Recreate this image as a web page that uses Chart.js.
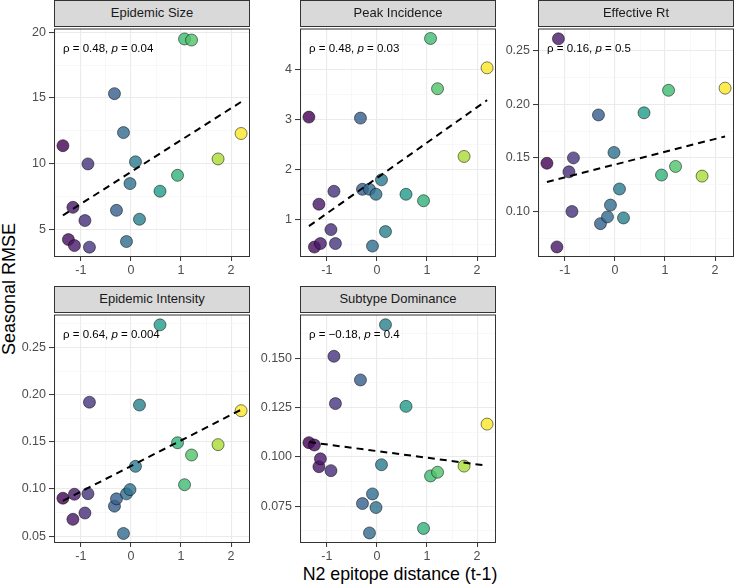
<!DOCTYPE html>
<html>
<head>
<meta charset="utf-8">
<script src="https://cdn.jsdelivr.net/npm/chart.js@4.4.1/dist/chart.umd.min.js"></script>
<style>
  body { margin: 0; background: #fff; width: 735px; height: 584px; position: relative; overflow: hidden; font-family: "Liberation Sans", Arial, sans-serif; }
  canvas { position: absolute; }
  .strip { position: absolute; background: #d9d9d9; border: 1px solid #333; box-sizing: border-box; text-align: center; color: #1a1a1a; font-size: 13px; line-height: 24px; z-index: 2; }
  .ytitle { position: absolute; left: 9px; top: 289px; transform: translate(-50%, -50%) rotate(-90deg); font-size: 18px; color: #000; white-space: nowrap; }
  .xtitle { position: absolute; left: 400px; top: 574px; transform: translate(-50%, -50%); font-size: 17.8px; line-height: 20px; color: #000; white-space: nowrap; }
</style>
</head>
<body>
<div class="ytitle">Seasonal RMSE</div>
<div class="xtitle">N2 epitope distance (t-1)</div>
<script>
// N2 epitope distance (t-1), same seasons in every panel
const epitopeDist = [-1.36, -1.25, -1.16, -1.13, -0.92, -0.86, -0.83, -0.33, -0.29, -0.15, -0.09, -0.02, 0.09, 0.17, 0.58, 0.93, 1.07, 1.21, 1.74, 2.2];

// Seasonal RMSE per metric (null = no point shown)
const epidemicSize      = [11.36, 4.2, 6.66, 3.74, 5.65, 9.97, 3.62, 15.33, 6.43, 12.36, 4.05, 8.47, 10.13, 5.75, 7.89, 9.1, 19.5, 19.42, 10.35, 12.29];
const peakIncidence     = [3.05, 0.44, 1.3, 0.51, 0.79, 1.56, 0.51, 3.03, 1.6, 1.6, 0.46, 1.5, 1.79, 0.75, 1.5, 1.37, 4.63, 3.62, 2.26, 4.04];
const effectiveRt       = [0.145, null, 0.067, 0.261, 0.137, 0.100, 0.150, 0.190, 0.0887, 0.095, 0.106, 0.155, 0.121, 0.094, 0.192, 0.134, 0.213, 0.142, 0.133, 0.215];
const epidemicIntensity = [0.0902, null, 0.0678, 0.0944, 0.0745, 0.095, 0.192, 0.0818, 0.0895, 0.0528, 0.0948, 0.0993, 0.124, 0.189, 0.274, 0.149, 0.1045, 0.136, 0.147, 0.183];
const subtypeDominance  = [0.1072, 0.106, 0.095, 0.099, 0.093, 0.151, 0.127, 0.139, 0.0763, 0.0614, 0.0812, 0.0743, 0.096, 0.167, 0.1256, 0.0637, 0.0903, 0.0922, 0.0953, 0.1166];

// dashed linear fit, read at both ends of the x range
const fitX = [-1.36, 2.2];
const fitSize      = [6.05, 14.7];
const fitPeak      = [0.86, 3.39];
const fitRt        = [0.1276, 0.170];
const fitIntensity = [0.0874, 0.184];
const fitSubtype   = [0.1075, 0.0955];

// correlation labels
const corRho = ['0.48', '0.48', '0.16', '0.64', '\u22120.18'];
const corP   = ['0.04', '0.03', '0.5', '0.004', '0.4'];

// ticks
const xTicks = [-1, 0, 1, 2];
const xMinor = [-1.5, -0.5, 0.5, 1.5];
const sizeTicks = [5, 10, 15, 20];
const sizeMinor = [7.5, 12.5, 17.5];
const peakTicks = [1, 2, 3, 4];
const peakMinor = [0.5, 1.5, 2.5, 3.5, 4.5];
const rtTicks = [0.10, 0.15, 0.20, 0.25];
const rtLabels = ['0.10', '0.15', '0.20', '0.25'];
const rtMinor = [0.075, 0.125, 0.175, 0.225];
const intensityTicks = [0.05, 0.10, 0.15, 0.20, 0.25];
const intensityLabels = ['0.05', '0.10', '0.15', '0.20', '0.25'];
const intensityMinor = [0.075, 0.125, 0.175, 0.225, 0.275];
const subtypeTicks = [0.075, 0.100, 0.125, 0.150];
const subtypeLabels = ['0.075', '0.100', '0.125', '0.150'];
const subtypeMinor = [0.0625, 0.0875, 0.1125, 0.1375, 0.1625];

const panels = [
  { title: 'Epidemic Size', y: epidemicSize, fit: fitSize, ticks: sizeTicks, labels: sizeTicks.map(String), minor: sizeMinor, ymin: 2.87, ymax: 20.3, left: 54, top: 26 },
  { title: 'Peak Incidence', y: peakIncidence, fit: fitPeak, ticks: peakTicks, labels: peakTicks.map(String), minor: peakMinor, ymin: 0.24, ymax: 4.83, left: 300, top: 26 },
  { title: 'Effective Rt', y: effectiveRt, fit: fitRt, ticks: rtTicks, labels: rtLabels, minor: rtMinor, ymin: 0.0576, ymax: 0.2706, left: 538, top: 26 },
  { title: 'Epidemic Intensity', y: epidemicIntensity, fit: fitIntensity, ticks: intensityTicks, labels: intensityLabels, minor: intensityMinor, ymin: 0.0427, ymax: 0.285, left: 54, top: 312 },
  { title: 'Subtype Dominance', y: subtypeDominance, fit: fitSubtype, ticks: subtypeTicks, labels: subtypeLabels, minor: subtypeMinor, ymin: 0.0563, ymax: 0.1722, left: 300, top: 312 }
];

const PW = 196, PH = 231, AXW = 50, AXH = 30, PADT = 8, PADR = 4;
const XMIN = -1.538, XMAX = 2.378;

// viridis colour for each point, by x
const viridis = ['#440154', '#482475', '#414487', '#355f8d', '#2a788e', '#21918c', '#22a884', '#44bf70', '#7ad151', '#bddf26', '#fde725'];
function hexToRgb(h) { return [1, 3, 5].map(i => parseInt(h.substr(i, 2), 16)); }
function viridisColor(t, alpha) {
  t = Math.max(0, Math.min(1, t)) * (viridis.length - 1);
  const i = Math.min(Math.floor(t), viridis.length - 2);
  const f = t - i;
  const a = hexToRgb(viridis[i]), b = hexToRgb(viridis[i + 1]);
  const c = a.map((v, k) => Math.round(v + (b[k] - v) * f));
  return `rgba(${c[0]},${c[1]},${c[2]},${alpha})`;
}
const xLo = Math.min(...epitopeDist), xHi = Math.max(...epitopeDist);

function tickList(major, minor) {
  return major.map(v => ({ value: v })).concat(minor.map(v => ({ value: v, minor: true })))
    .sort((a, b) => a.value - b.value);
}

// panel border + correlation text
const panelDeco = {
  id: 'panelDeco',
  afterDatasetsDraw(chart, args, opts) {
    const { ctx, chartArea: a } = chart;
    ctx.save();
    ctx.fillStyle = '#000';
    ctx.textBaseline = 'middle';
    let x = a.left + 9;
    const y = a.top + 20;
    const parts = [['\u03c1 = ' + opts.rho + ', ', 'normal'], ['p', 'italic'], [' = ' + opts.p, 'normal']];
    parts.forEach(([txt, style]) => {
      ctx.font = style + ' 11.5px "Liberation Sans", Arial, sans-serif';
      ctx.fillText(txt, x, y);
      x += ctx.measureText(txt).width;
    });
    ctx.strokeStyle = '#333';
    ctx.lineWidth = 1;
    ctx.strokeRect(a.left + 0.5, a.top + 0.5, a.right - a.left - 1, a.bottom - a.top - 1);
    ctx.restore();
  }
};

const tickFont = { family: '"Liberation Sans", Arial, sans-serif', size: 12.5 };
const gridColor = c => (c.tick && c.tick.minor) ? '#f4f4f4' : '#ebebeb';
const gridWidth = c => (c.tick && c.tick.minor) ? 0.6 : 1.1;
const tickMarkColor = c => (c.tick && c.tick.minor) ? 'rgba(0,0,0,0)' : '#333';

panels.forEach((p, n) => {
  const strip = document.createElement('div');
  strip.className = 'strip';
  strip.textContent = p.title;
  strip.style.left = p.left + 'px';
  strip.style.top = (p.top - 26) + 'px';
  strip.style.width = PW + 'px';
  strip.style.height = '27px';
  document.body.appendChild(strip);

  const canvas = document.createElement('canvas');
  canvas.width = PW + AXW + PADR;
  canvas.height = PH + PADT + AXH;
  canvas.style.left = (p.left - AXW) + 'px';
  canvas.style.top = (p.top - PADT) + 'px';
  document.body.appendChild(canvas);

  const points = [];
  const colors = [];
  epitopeDist.forEach((x, i) => {
    if (p.y[i] === null) return;
    points.push({ x: x, y: p.y[i] });
    colors.push(viridisColor((x - xLo) / (xHi - xLo), 0.8));
  });

  new Chart(canvas, {
    type: 'scatter',
    data: {
      datasets: [
        {
          data: [{ x: fitX[0], y: p.fit[0] }, { x: fitX[1], y: p.fit[1] }],
          showLine: true,
          borderColor: '#000',
          borderWidth: 2,
          borderDash: [7, 5],
          pointRadius: 0,
          order: 0
        },
        {
          data: points,
          backgroundColor: colors,
          borderColor: 'rgba(0,0,0,0.85)',
          borderWidth: 0.6,
          pointRadius: 6,
          order: 1
        }
      ]
    },
    options: {
      responsive: false,
      devicePixelRatio: 1,
      animation: false,
      events: [],
      layout: { autoPadding: false, padding: { top: PADT, right: PADR, left: 0, bottom: 0 } },
      plugins: {
        legend: { display: false },
        tooltip: { enabled: false },
        panelDeco: { rho: corRho[n], p: corP[n] }
      },
      scales: {
        x: {
          type: 'linear',
          min: XMIN,
          max: XMAX,
          afterBuildTicks: s => { s.ticks = tickList(xTicks, xMinor); },
          afterFit: s => { s.height = AXH; },
          border: { display: false },
          grid: { color: gridColor, lineWidth: gridWidth, tickColor: tickMarkColor, tickLength: 4, tickWidth: 1 },
          ticks: {
            font: tickFont, color: '#4d4d4d', padding: 2, maxRotation: 0, autoSkip: false,
            callback: v => { const k = xTicks.indexOf(v); return k >= 0 ? String(xTicks[k]) : ''; }
          }
        },
        y: {
          type: 'linear',
          min: p.ymin,
          max: p.ymax,
          afterBuildTicks: s => { s.ticks = tickList(p.ticks, p.minor); },
          afterFit: s => { s.width = AXW; },
          border: { display: false },
          grid: { color: gridColor, lineWidth: gridWidth, tickColor: tickMarkColor, tickLength: 5, tickWidth: 1 },
          ticks: {
            font: tickFont, color: '#4d4d4d', padding: 3, autoSkip: false,
            callback: v => { const k = p.ticks.findIndex(t => Math.abs(t - v) < 1e-9); return k >= 0 ? p.labels[k] : ''; }
          }
        }
      }
    },
    plugins: [panelDeco]
  });
});
</script>
</body>
</html>
